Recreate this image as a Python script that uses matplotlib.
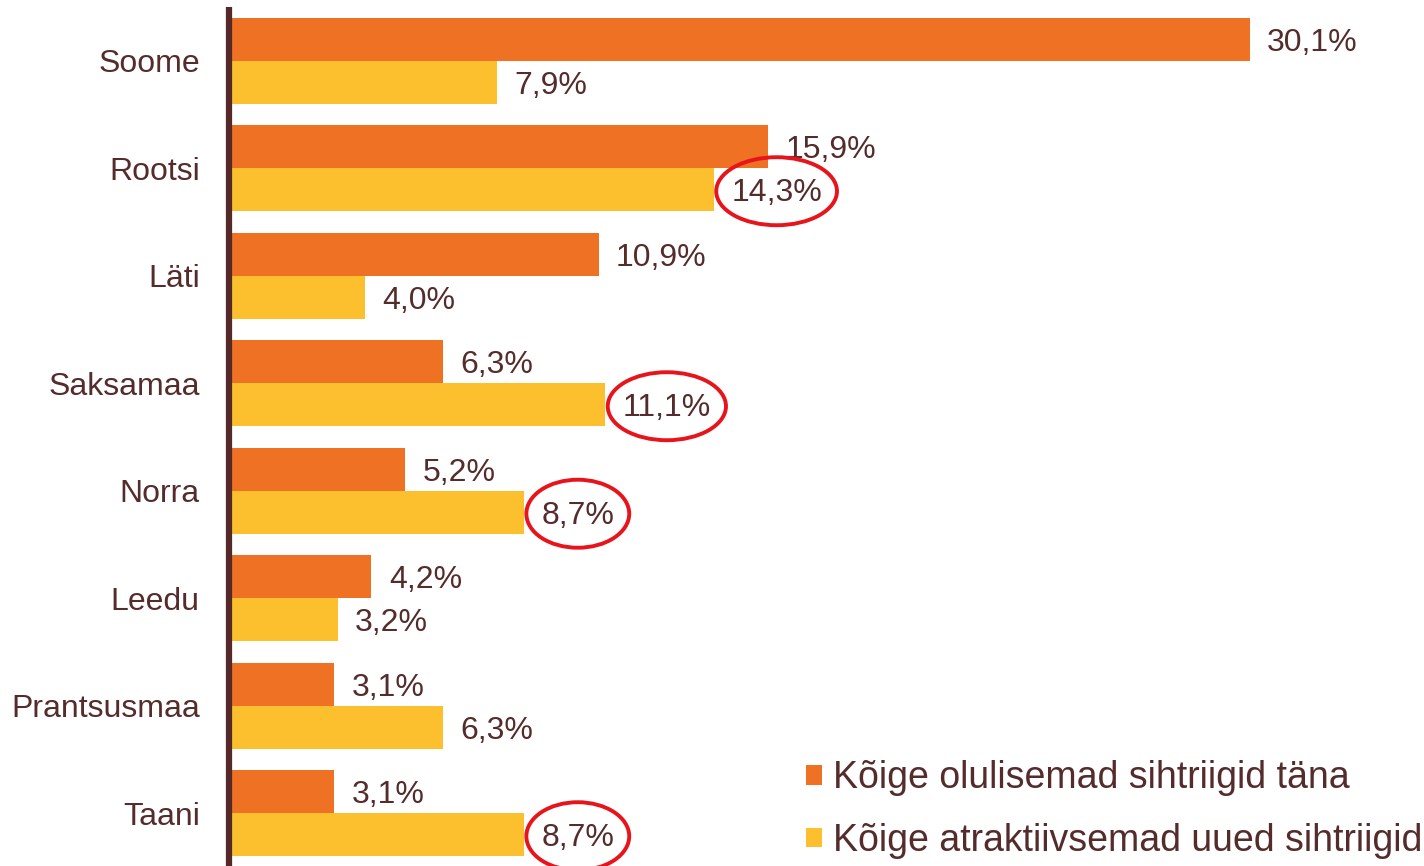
import matplotlib
matplotlib.use("Agg")
import matplotlib.pyplot as plt
from matplotlib.patches import Ellipse, Patch

plt.rcParams["font.family"] = ["Liberation Sans", "DejaVu Sans"]

countries = ["Soome", "Rootsi", "Läti", "Saksamaa", "Norra", "Leedu", "Prantsusmaa", "Taani"]
today = [30.1, 15.9, 10.9, 6.3, 5.2, 4.2, 3.1, 3.1]
attractive = [7.9, 14.3, 4.0, 11.1, 8.7, 3.2, 6.3, 8.7]
circled = [False, True, False, True, True, False, False, True]
series_names = ["Kõige olulisemad sihtriigid täna", "Kõige atraktiivsemad uued sihtriigid"]

ORANGE, YELLOW = "#EE7124", "#FCC02E"
TEXT = "#552C2C"
FS = 23

W, H, DPI = 1424, 866, 100
fig = plt.figure(figsize=(W / DPI, H / DPI), dpi=DPI)
ax = fig.add_axes([229 / W, (H - 867) / H, (W - 229) / W, 860 / H])

pos = list(range(len(countries)))
ax.barh([p - 0.2 for p in pos], today, height=0.4, color=ORANGE, zorder=2)
ax.barh([p + 0.2 for p in pos], attractive, height=0.4, color=YELLOW, zorder=2)

ax.set_xlim(0, (W - 231) / 33.85)
ax.set_ylim(len(countries) - 0.5, -0.5)
ax.set_yticks(pos)
ax.set_yticklabels(countries, fontsize=FS, color=TEXT)
ax.tick_params(axis="y", length=0, pad=21)
ax.set_xticks([])
for s in ["top", "right", "bottom"]:
    ax.spines[s].set_visible(False)
ax.spines["left"].set_linewidth(4.5)
ax.spines["left"].set_color("#55292A")
ax.spines["left"].set_zorder(3)
ax.spines["left"].set_capstyle("butt")

fmt = lambda v: f"{v:.1f}%".replace(".", ",")
labels_y = []
for p, v in zip(pos, today):
    ax.annotate(fmt(v), (v, p - 0.2), xytext=(12.5, -2.5), textcoords="offset points",
                va="center", ha="left", fontsize=FS, color=TEXT)
for p, v, c in zip(pos, attractive, circled):
    t = ax.annotate(fmt(v), (v, p + 0.2), xytext=(12.5, -2.5), textcoords="offset points",
                    va="center", ha="left", fontsize=FS, color=TEXT)
    if c:
        labels_y.append(t)

# red ellipses around highlighted labels
fig.canvas.draw()
r = fig.canvas.get_renderer()
inv = ax.transData.inverted()
for t in labels_y:
    bb = t.get_window_extent(r)
    cx, cy = (bb.x0 + bb.x1) / 2, (bb.y0 + bb.y1) / 2 + 2
    (x0, y0), (x1, y1) = inv.transform([(cx - (bb.width + 30) / 2, cy - 34), (cx + (bb.width + 30) / 2, cy + 34)])
    ax.add_patch(Ellipse(((x0 + x1) / 2, (y0 + y1) / 2), abs(x1 - x0), abs(y1 - y0),
                         fill=False, edgecolor="#E8141B", linewidth=2.8, zorder=4, clip_on=False))

handles = [Patch(facecolor=ORANGE), Patch(facecolor=YELLOW)]
fig.legend(handles, series_names, loc="lower left", bbox_to_anchor=(806 / W, 7 / H),
           frameon=False, fontsize=27, labelcolor=TEXT, handlelength=0.43, handleheight=0.43,
           handletextpad=0.3, labelspacing=0.71, borderpad=0, borderaxespad=0)

fig.savefig("out.png", dpi=DPI)
